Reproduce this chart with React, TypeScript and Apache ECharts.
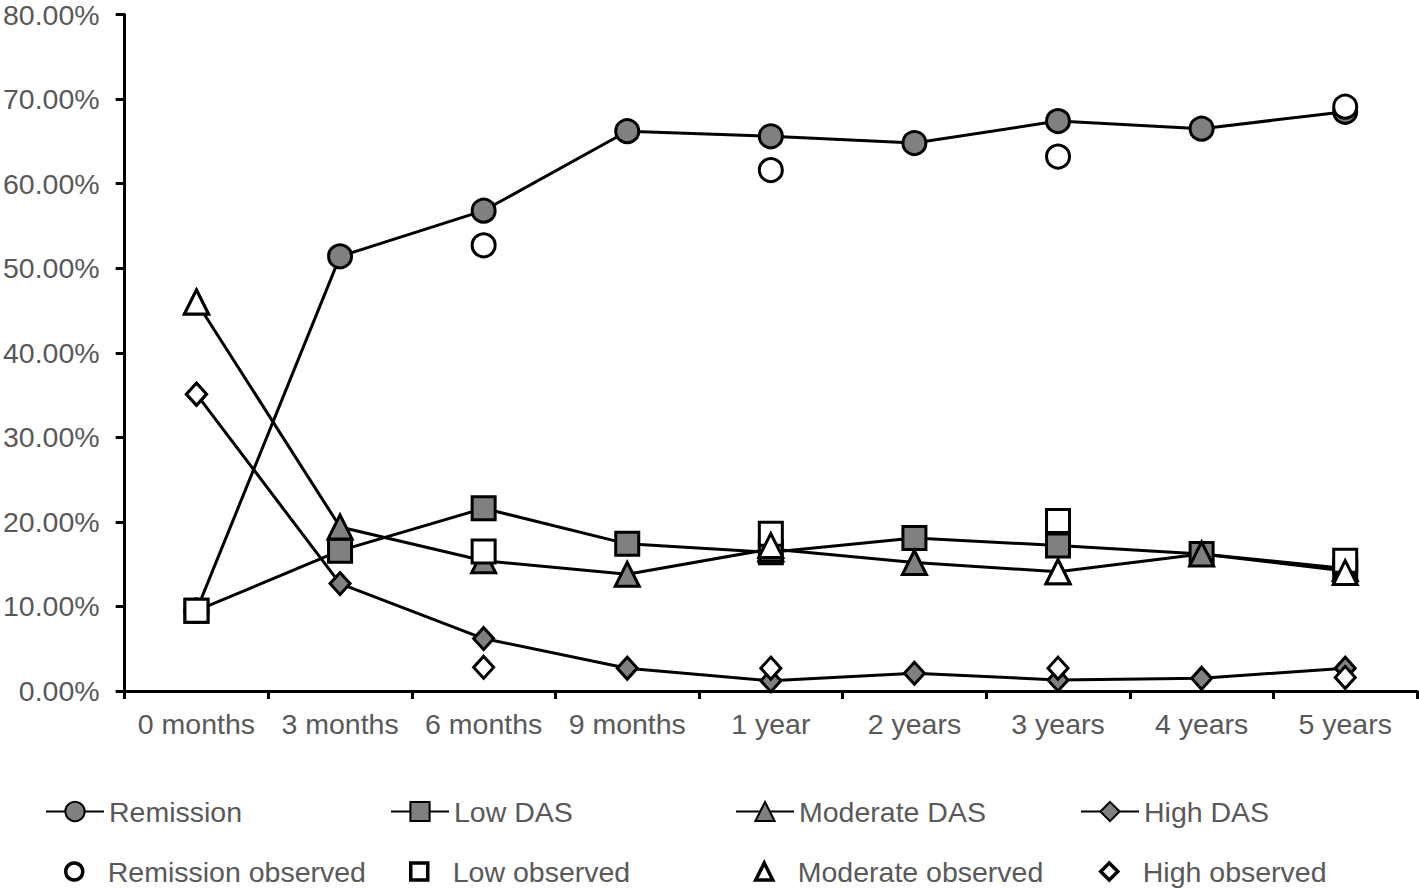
import React, { useEffect, useRef } from "react";
import * as echarts from "echarts";

const categories = ["0 months", "3 months", "6 months", "9 months", "1 year", "2 years", "3 years", "4 years", "5 years"];

const remission = [9.5, 51.4, 56.8, 66.2, 65.6, 64.8, 67.4, 66.5, 68.5];
const lowDas = [9.5, 16.6, 21.6, 17.4, 16.4, 18.1, 17.2, 16.2, 14.2];
const moderateDas = [46.0, 19.4, 15.4, 13.8, 16.8, 15.2, 14.1, 16.2, 14.5];
const highDas = [35.1, 12.7, 6.2, 2.7, 1.2, 2.1, 1.3, 1.5, 2.7];

const remissionObs = [9.5, null, 52.7, null, 61.6, null, 63.2, null, 69.1];
const lowObs = [9.5, null, 16.5, null, 18.6, null, 20.1, null, 15.4];
const moderateObs = [46.0, null, null, null, 17.2, null, 14.1, null, 14.0];
const highObs = [35.1, null, 2.8, null, 2.7, null, 2.7, null, 1.6];

const yTicks = { min: 0, max: 80, interval: 10 };

const FONT = "'Liberation Sans', Arial, Helvetica, sans-serif";
const FS = 28.5;
const GRAY = "#808080";
const TEXT = "#595959";

export default function App() {
  const ref = useRef<HTMLDivElement>(null);
  useEffect(() => {
    if (!ref.current) return;
    const chart = echarts.init(ref.current, null, { renderer: "svg" });

    const lineSeries = (name: string, data: number[], symbol: string, size: number | number[]) => ({
      name,
      type: "line",
      data,
      symbol,
      symbolSize: size,
      z: 2,
      lineStyle: { color: "#000", width: 3 },
      itemStyle: { color: GRAY, borderColor: "#000", borderWidth: 3 },
    });
    const obsSeries = (name: string, data: (number | null)[], symbol: string, size: number | number[], z: number) => ({
      name,
      type: "scatter",
      data,
      symbol,
      symbolSize: size,
      z,
      itemStyle: { color: "#fff", borderColor: "#000", borderWidth: 3, opacity: 1 },
    });

    const names = [
      "Remission", "Low DAS", "Moderate DAS", "High DAS",
      "Remission observed", "Low observed", "Moderate observed", "High observed",
    ];
    const colX = [45, 390, 735, 1080];
    const rowY = [797, 857];
    const legends = names.map((n, i) => {
      const row = Math.floor(i / 4);
      const col = i % 4;
      if (row === 0) {
        return {
          data: [n],
          left: colX[col],
          top: rowY[0],
          padding: 0,
          itemWidth: 58,
          itemHeight: 24,
          textStyle: { color: TEXT, fontSize: FS, fontFamily: FONT },
          selectedMode: false,
        };
      }
      return {
        data: [n],
        left: colX[col] + 19,
        top: rowY[1],
        padding: 0,
        itemWidth: 17,
        itemHeight: 17,
        itemStyle: { borderWidth: 3.5 },
        textStyle: { color: TEXT, fontSize: FS, fontFamily: FONT, padding: [0, 0, 0, 20] },
        selectedMode: false,
      };
    });

    chart.setOption({
      animation: false,
      backgroundColor: "#fff",
      grid: { left: 122, top: 11, right: 2, bottom: 199, containLabel: false },
      legend: legends,
      xAxis: {
        type: "category",
        data: categories,
        boundaryGap: true,
        axisLine: { lineStyle: { color: "#000", width: 3 } },
        axisTick: { show: true, length: 8, lineStyle: { color: "#000", width: 3 } },
        axisLabel: { color: TEXT, fontSize: FS, fontFamily: FONT, margin: 18, interval: 0 },
        splitLine: { show: false },
      },
      yAxis: {
        type: "value",
        min: yTicks.min,
        max: yTicks.max,
        interval: yTicks.interval,
        axisLine: { show: true, lineStyle: { color: "#000", width: 3 } },
        axisTick: { show: true, length: 9, lineStyle: { color: "#000", width: 3 } },
        axisLabel: {
          color: TEXT,
          fontSize: FS,
          fontFamily: FONT,
          margin: 25,
          formatter: (v: number) => v.toFixed(2) + "%",
        },
        splitLine: { show: false },
      },
      series: [
        lineSeries("Remission", remission, "circle", 23),
        lineSeries("Low DAS", lowDas, "rect", 23),
        lineSeries("Moderate DAS", moderateDas, "triangle", 24),
        lineSeries("High DAS", highDas, "diamond", [20, 22]),
        obsSeries("Remission observed", remissionObs, "circle", 23, 3),
        obsSeries("Low observed", lowObs, "rect", 23, 4),
        obsSeries("Moderate observed", moderateObs, "triangle", 24, 5),
        obsSeries("High observed", highObs, "diamond", [20, 22], 6),
      ],
    });
    return () => chart.dispose();
  }, []);
  return <div ref={ref} style={{ position: "fixed", left: 0, top: 0, width: 1419, height: 890, background: "#fff" }} />;
}
